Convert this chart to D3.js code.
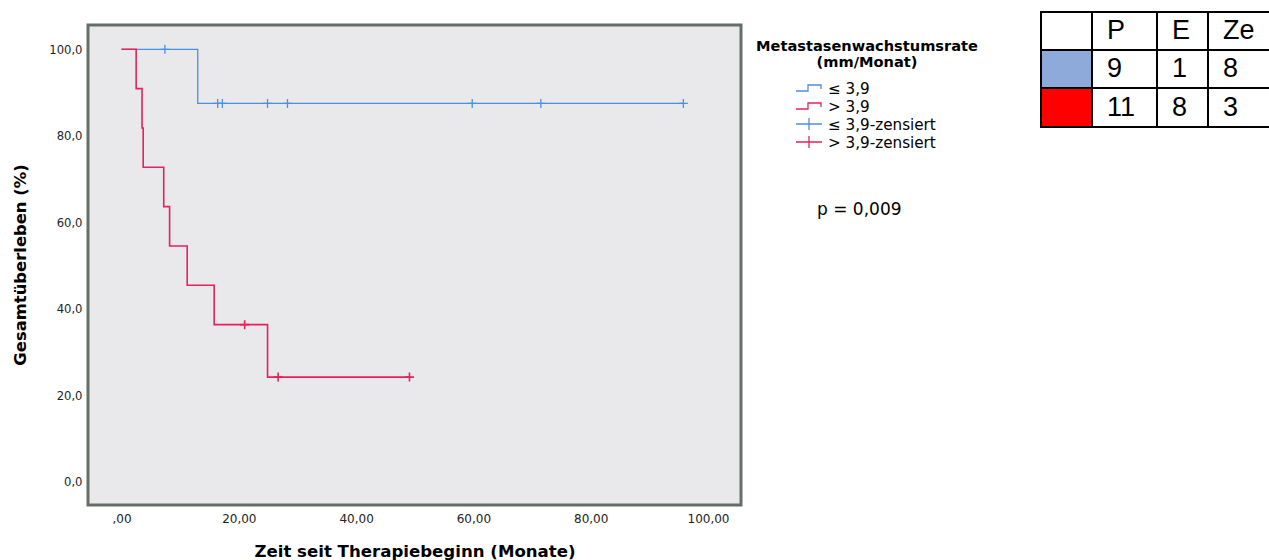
<!DOCTYPE html>
<html>
<head>
<meta charset="utf-8">
<script src="https://cdn.jsdelivr.net/npm/d3@7"></script>
<style>
  body { margin: 0; background: #fff; }
  svg { display: block; }
</style>
</head>
<body>
<svg id="chart" width="1269" height="560"></svg>
<script>
//-----------------------------------------------------------------------------
// DATA
var groupNames   = ["≤ 3,9", "> 3,9"];
var groupColors  = ["#4a90e2", "#e8215a"];
// time in months, event 1 = died, 0 = censored
var lowTimes     = [7.4, 13.0, 16.4, 17.2, 24.9, 28.3, 59.8, 71.5, 95.8];
var lowEvents    = [0, 1, 0, 0, 0, 0, 0, 0, 0];
var highTimes    = [2.5, 3.5, 3.7, 7.2, 8.2, 11.2, 15.8, 21.0, 24.9, 26.7, 49.1];
var highEvents   = [1, 1, 1, 1, 1, 1, 1, 0, 1, 0, 0];
var xTicks       = [0, 20, 40, 60, 80, 100];
var xTickLabels  = [",00", "20,00", "40,00", "60,00", "80,00", "100,00"];
var yTicks       = [0, 20, 40, 60, 80, 100];
var yTickLabels  = ["0,0", "20,0", "40,0", "60,0", "80,0", "100,0"];
var legendLabels = ["≤ 3,9", "> 3,9", "≤ 3,9-zensiert", "> 3,9-zensiert"];
var pValueText   = "p = 0,009";
var tableHeader  = ["", "P", "E", "Ze"];
var tableRows    = [["9", "1", "8"], ["11", "8", "3"]];
var tableSwatch  = ["#8eaadb", "#ff0000"];

//-----------------------------------------------------------------------------
// KAPLAN-MEIER
function kaplanMeier(times, events){
  var obs = times.map(function(t, i){ return {t: t, e: events[i]}; })
                 .sort(function(a, b){ return a.t - b.t; });
  var atRisk = obs.length, s = 100;
  var path = [[0, 100]], censored = [];
  obs.forEach(function(o){
    if (o.e === 1){
      path.push([o.t, s]);
      s = s * (atRisk - 1) / atRisk;
      path.push([o.t, s]);
    } else {
      censored.push([o.t, s]);
    }
    atRisk--;
  });
  path.push([obs[obs.length - 1].t, s]);
  return {path: path, censored: censored};
}
var curves = [kaplanMeier(lowTimes, lowEvents), kaplanMeier(highTimes, highEvents)];

//-----------------------------------------------------------------------------
// LAYOUT
var svg = d3.select("#chart");
var frame = {left: 88, top: 25, right: 741, bottom: 505};
var x = d3.scaleLinear().domain([0, 100]).range([121.5, 708]);
var y = d3.scaleLinear().domain([0, 100]).range([482, 49.3]);
var font = "'DejaVu Sans', Verdana, sans-serif";

svg.append("rect")
   .attr("x", frame.left).attr("y", frame.top)
   .attr("width", frame.right - frame.left).attr("height", frame.bottom - frame.top)
   .attr("fill", "#e9e9ec")
   .attr("stroke", "#647066")
   .attr("stroke-width", 3);

// axes (labels only, no tick marks)
var xAxis = d3.axisBottom(x).tickValues(xTicks).tickSize(0).tickPadding(0)
              .tickFormat(function(d, i){ return xTickLabels[i]; });
var gx = svg.append("g").attr("transform", "translate(0,514)").call(xAxis);
var yAxis = d3.axisLeft(y).tickValues(yTicks).tickSize(0).tickPadding(0)
              .tickFormat(function(d, i){ return yTickLabels[i]; });
var gy = svg.append("g").attr("transform", "translate(82.5,0)").call(yAxis);
[gx, gy].forEach(function(g){
  g.select(".domain").remove();
  g.selectAll("text").attr("font-family", font).attr("fill", "#222");
});
gx.selectAll("text").attr("font-size", 12);
gy.selectAll("text").attr("font-size", 11.6);

svg.append("text")
   .attr("x", 415).attr("y", 557)
   .attr("text-anchor", "middle")
   .attr("font-family", font).attr("font-size", 16.6).attr("font-weight", "bold")
   .text("Zeit seit Therapiebeginn (Monate)");
svg.append("text")
   .attr("transform", "translate(26,265) rotate(-90)")
   .attr("text-anchor", "middle")
   .attr("font-family", font).attr("font-size", 16.4).attr("font-weight", "bold")
   .text("Gesamtüberleben (%)");

//-----------------------------------------------------------------------------
// CURVES
var line = d3.line().x(function(d){ return x(d[0]); }).y(function(d){ return y(d[1]); });
function plusPath(cx, cy, r){
  return "M" + (cx - r) + "," + cy + "H" + (cx + r) + "M" + cx + "," + (cy - r) + "V" + (cy + r);
}
curves.forEach(function(c, i){
  var g = svg.append("g");
  g.append("path")
   .attr("d", line(c.path))
   .attr("fill", "none")
   .attr("stroke", groupColors[i])
   .attr("stroke-width", i === 1 ? 1.6 : 1.3);
  g.selectAll("path.cens").data(c.censored).enter()
   .append("path").attr("class", "cens")
   .attr("d", function(d){ return plusPath(x(d[0]), y(d[1]), 4.5); })
   .attr("stroke", groupColors[i])
   .attr("stroke-width", i === 1 ? 1.6 : 1.3);
});

//-----------------------------------------------------------------------------
// LEGEND
var lg = svg.append("g");
lg.append("text").attr("x", 867).attr("y", 51)
  .attr("text-anchor", "middle").attr("font-family", font)
  .attr("font-size", 14.6).attr("font-weight", "bold")
  .text("Metastasenwachstumsrate");
lg.append("text").attr("x", 867).attr("y", 67)
  .attr("text-anchor", "middle").attr("font-family", font)
  .attr("font-size", 14.6).attr("font-weight", "bold")
  .text("(mm/Monat)");
var legendY = [88, 106, 124, 142];
legendLabels.forEach(function(lbl, i){
  var cy = legendY[i], col = groupColors[i % 2];
  var d;
  if (i < 2){
    d = "M796," + (cy + 3) + "H808V" + (cy - 3) + "H821V" + (cy + 1);
  } else {
    d = "M796," + cy + "H822M809," + (cy - 6) + "V" + (cy + 6);
  }
  lg.append("path").attr("d", d).attr("fill", "none")
    .attr("stroke", col).attr("stroke-width", 1.3);
  lg.append("text").attr("x", 828).attr("y", cy + 5.5)
    .attr("font-family", font).attr("font-size", 15.2)
    .text(lbl);
});
lg.append("text").attr("x", 817).attr("y", 215)
  .attr("font-family", font).attr("font-size", 17)
  .text(pValueText);

//-----------------------------------------------------------------------------
// TABLE
var colX = [1041, 1092, 1157, 1208, 1300];
var rowY = [12, 50, 88, 127];
var tg = svg.append("g");
var tableData = [tableHeader].concat(tableRows.map(function(r){ return [""].concat(r); }));
tableData.forEach(function(row, r){
  row.forEach(function(cell, c){
    tg.append("rect")
      .attr("x", colX[c]).attr("y", rowY[r])
      .attr("width", colX[c + 1] - colX[c]).attr("height", rowY[r + 1] - rowY[r])
      .attr("fill", (c === 0 && r > 0) ? tableSwatch[r - 1] : "#fff")
      .attr("stroke", "#000").attr("stroke-width", 2);
    if (cell !== ""){
      tg.append("text")
        .attr("x", colX[c] + 15).attr("y", rowY[r + 1] - 11)
        .attr("font-family", "'Liberation Sans', Arial, sans-serif")
        .attr("font-size", 27)
        .text(cell);
    }
  });
});
</script>
</body>
</html>
